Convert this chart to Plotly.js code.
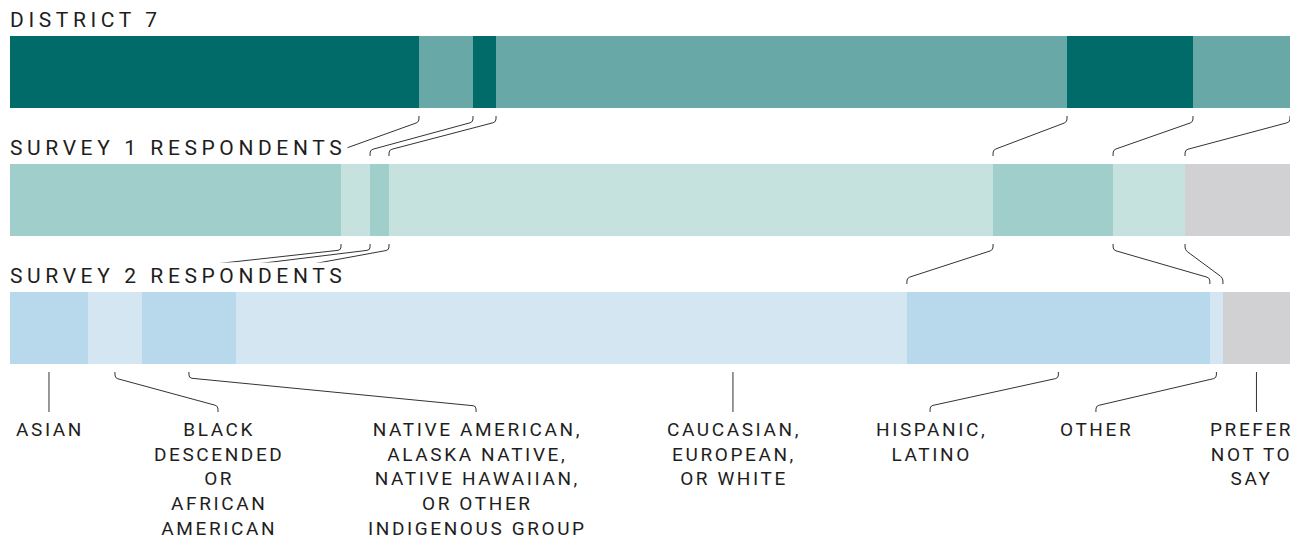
<!DOCTYPE html>
<html>
<head>
<meta charset="utf-8">
<script src="https://cdn.plot.ly/plotly-3.0.1.min.js"></script>
<style>
  html, body { margin: 0; padding: 0; background: #fff; }
  #chart { width: 1304px; height: 542px; }
  text.annotation-text[style*="font-size: 21px"] { letter-spacing: 4.6px; }
  text.annotation-text[style*="font-size: 19px"] { letter-spacing: 2.6px; }
</style>
</head>
<body>
<div id="chart"></div>
<script>
// ---------------- DATA ----------------
const groups = ["DISTRICT 7", "SURVEY 1 RESPONDENTS", "SURVEY 2 RESPONDENTS"];
const categories = [
  "Asian",
  "Black descended or African American",
  "Native American, Alaska Native, Native Hawaiian, or other Indigenous group",
  "Caucasian, European, or White",
  "Hispanic, Latino",
  "Other",
  "Prefer not to say"
];
const categoryLabels = [
  "ASIAN",
  "BLACK<br>DESCENDED<br>OR<br>AFRICAN<br>AMERICAN",
  "NATIVE AMERICAN,<br>ALASKA NATIVE,<br>NATIVE HAWAIIAN,<br>OR OTHER<br>INDIGENOUS GROUP",
  "CAUCASIAN,<br>EUROPEAN,<br>OR WHITE",
  "HISPANIC,<br>LATINO",
  "OTHER",
  "PREFER<br>NOT TO<br>SAY"
];
// shares in percent
const district7 = [31.95, 4.22, 1.80, 44.61, 9.84, 7.58, 0];
const survey1   = [25.86, 2.27, 1.48, 47.19, 9.38, 5.62, 8.20];
const survey2   = [6.09, 4.22, 7.34, 52.42, 23.67, 1.02, 5.24];

// ---------------- STYLE / LAYOUT CONFIG ----------------
const palettes = [
  { dark: "#006b68", light: "#68a8a6" },
  { dark: "#a0cfcb", light: "#c6e2df" },
  { dark: "#b8d9eb", light: "#d3e6f2" }
];
const grayColor = "#d1d1d3";
const textColor = "#1e1e1e";
const lineColor = "#333333";
const fontFamily = "Roboto, 'Liberation Sans', sans-serif";

// label text positions (x axis units) and how the leader is drawn
const labelTextX = [null, 16.25, 36.41, 56.48, 71.88, 84.84, 96.88];
const leaderMode = ["segment", "curve", "curve", "label", "curve", "curve", "segment"];

const W = 1304, H = 542;
const margin = { l: 10, r: 14, t: 0, b: 0 };
const xRange = [0, 100];
const yRange = [3.671875, -0.5625];
const BAR_W = 0.5625;

const plotW = W - margin.l - margin.r;
const plotH = H - margin.t - margin.b;
const pxX = (xRange[1] - xRange[0]) / plotW;      // x units per pixel
const pxY = (yRange[0] - yRange[1]) / plotH;      // y units per pixel

// ---------------- BUILD ----------------
const rows = [district7, survey1, survey2];
const cum = rows.map(r => { let s = 0; return r.map(v => (s += v)); });
const rowIdx = rows.map((_, i) => i);

function colorFor(row, k) {
  if (k === categories.length - 1) return grayColor;
  return k % 2 === 0 ? palettes[row].dark : palettes[row].light;
}

const traces = categories.map((cat, k) => ({
  type: "bar",
  orientation: "h",
  name: cat,
  y: rowIdx,
  x: rows.map(r => r[k]),
  width: BAR_W,
  marker: { color: rowIdx.map(r => colorFor(r, k)), line: { width: 0 } },
  hoverinfo: "skip"
}));

function fmt(p) { return (p[0] * pxX).toFixed(4) + "," + (p[1] * pxY).toFixed(5); }

function connector(xa, ya, xb, yb, tick, rad) {
  const ax = xa / pxX, ay = ya / pxY, bx = xb / pxX, by = yb / pxY;
  if (Math.abs(ax - bx) < 0.5) {
    return "M " + fmt([ax, ay]) + " L " + fmt([ax, by]);
  }
  const c1 = [ax, ay + tick], c2 = [bx, by - tick];
  const dx = c2[0] - c1[0], dy = c2[1] - c1[1];
  const len = Math.hypot(dx, dy);
  const ux = dx / len, uy = dy / len;
  return "M " + fmt([ax, ay]) +
    " L " + fmt([ax, ay + tick - rad]) +
    " Q " + fmt(c1) + " " + fmt([c1[0] + ux * rad, c1[1] + uy * rad]) +
    " L " + fmt([c2[0] - ux * rad, c2[1] - uy * rad]) +
    " Q " + fmt(c2) + " " + fmt([bx, by - tick + rad]) +
    " L " + fmt([bx, by]);
}

const shapes = [];
for (let r = 0; r < rows.length - 1; r++) {
  for (let k = 0; k < categories.length - 1; k++) {
    const xa = cum[r][k], xb = cum[r + 1][k];
    const ya = r + BAR_W / 2 + 8 * pxY;
    const yb = r + 1 - BAR_W / 2 - 8 * pxY;
    shapes.push({
      type: "path", xref: "x", yref: "y", layer: "above",
      path: connector(xa, ya, xb, yb, 6, 3),
      line: { color: lineColor, width: 1 }
    });
  }
}
const last = rows.length - 1;
const annotations = [];
categories.forEach((cat, k) => {
  const segCenter = cum[last][k] - rows[last][k] / 2;
  const tx = labelTextX[k] === null ? segCenter : labelTextX[k];
  let xa, xb;
  if (leaderMode[k] === "segment") { xa = segCenter; xb = segCenter; }
  else if (leaderMode[k] === "label") { xa = tx; xb = tx; }
  else { xa = segCenter; xb = tx; }
  const ya = last + BAR_W / 2 + 8 * pxY;
  const yb = last + BAR_W / 2 + 48 * pxY;
  shapes.push({
    type: "path", xref: "x", yref: "y", layer: "above",
    path: connector(xa, ya, xb, yb, 6, 3),
    line: { color: lineColor, width: 1 }
  });
  annotations.push({
    xref: "x", yref: "y", x: tx, y: last + BAR_W / 2 + 52 * pxY,
    xanchor: "center", yanchor: "top", align: "center",
    xshift: 1,
    text: categoryLabels[k], showarrow: false,
    font: { family: fontFamily, size: 19, color: textColor }
  });
});
groups.forEach((g, r) => {
  annotations.push({
    xref: "x", yref: "y", x: 0, y: r - BAR_W / 2,
    xanchor: "left", yanchor: "bottom", align: "left",
    xshift: -2, yshift: 2,
    text: g, showarrow: false, bgcolor: "#ffffff",
    font: { family: fontFamily, size: 21, color: textColor }
  });
});

const layout = {
  width: W, height: H,
  margin: margin,
  paper_bgcolor: "#ffffff", plot_bgcolor: "#ffffff",
  barmode: "stack",
  bargap: 0,
  showlegend: false,
  xaxis: { range: xRange, visible: false, fixedrange: true },
  yaxis: { range: yRange, visible: false, fixedrange: true },
  shapes: shapes,
  annotations: annotations
};

Plotly.newPlot("chart", traces, layout, { displayModeBar: false, staticPlot: true });
</script>
</body>
</html>
